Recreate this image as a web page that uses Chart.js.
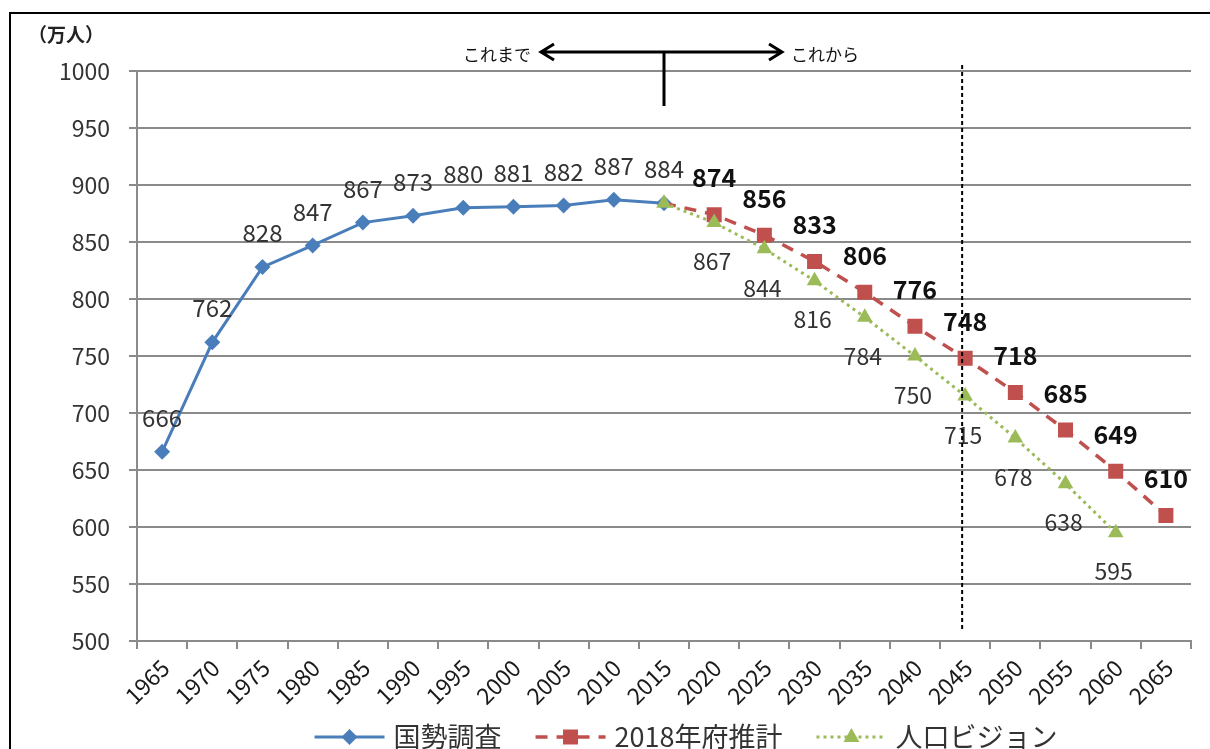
<!DOCTYPE html>
<html>
<head>
<meta charset="utf-8">
<script src="https://cdn.jsdelivr.net/npm/chart.js@4.4.0/dist/chart.umd.min.js"></script>
<style>
  html, body { margin: 0; padding: 0; background: #fff; }
  #wrap { width: 1210px; height: 749px; }
</style>
</head>
<body>
<div id="wrap"><canvas id="popChart" width="1210" height="749"></canvas></div>
<script>
const years = ['1965', '1970', '1975', '1980', '1985', '1990', '1995', '2000', '2005', '2010',
               '2015', '2020', '2025', '2030', '2035', '2040', '2045', '2050', '2055', '2060', '2065'];
const censusValues   = [666, 762, 828, 847, 867, 873, 880, 881, 882, 887, 884,
                        null, null, null, null, null, null, null, null, null, null];
const forecastValues = [null, null, null, null, null, null, null, null, null, null,
                        884, 874, 856, 833, 806, 776, 748, 718, 685, 649, 610];
const visionValues   = [null, null, null, null, null, null, null, null, null, null,
                        884, 867, 844, 816, 784, 750, 715, 678, 638, 595, null];
const seriesNames = ['国勢調査', '2018年府推計', '人口ビジョン'];
const yMin = 500, yMax = 1000, yStep = 50;

const FONT = "'Noto Sans CJK JP', 'Noto Sans', sans-serif";
const BLUE = '#4a7ebb', RED = '#c0504d', GREEN = '#9bbb59';
const GRID = '#8a8a8a';

// value labels next to each point
const pointLabels = {
    id: 'pointLabels',
    afterDatasetsDraw(chart) {
        const ctx = chart.ctx;
        chart.data.datasets.forEach((ds, di) => {
            const meta = chart.getDatasetMeta(di);
            const st = ds.labelStyle;
            meta.data.forEach((pt, i) => {
                const v = ds.data[i];
                if (v == null) return;
                if (di > 0 && years[i] === '2015') return;
                ctx.save();
                ctx.font = st.font;
                ctx.fillStyle = st.color;
                ctx.textAlign = 'center';
                ctx.textBaseline = 'middle';
                ctx.fillText(String(v), pt.x + st.dx, pt.y + st.dy);
                ctx.restore();
            });
        });
    }
};

function drawMarker(ctx, type, x, y, color) {
    ctx.save();
    ctx.fillStyle = color;
    ctx.beginPath();
    if (type === 'diamond') {
        ctx.moveTo(x, y - 8); ctx.lineTo(x + 8, y); ctx.lineTo(x, y + 8); ctx.lineTo(x - 8, y);
    } else if (type === 'square') {
        ctx.rect(x - 7.5, y - 7.5, 15, 15);
    } else {
        ctx.moveTo(x, y - 9); ctx.lineTo(x + 8, y + 5); ctx.lineTo(x - 8, y + 5);
    }
    ctx.closePath();
    ctx.fill();
    ctx.restore();
}

// frame, unit, arrows, 2045 marker line and legend
const decorations = {
    id: 'decorations',
    afterDraw(chart) {
        const ctx = chart.ctx;
        const xs = chart.scales.x;
        const area = chart.chartArea;

        ctx.save();
        ctx.strokeStyle = '#000';
        ctx.lineWidth = 2;
        ctx.strokeRect(10, 13, 1220, 760);

        ctx.fillStyle = '#222';
        ctx.font = 'bold 19px ' + FONT;
        ctx.textAlign = 'left';
        ctx.textBaseline = 'middle';
        ctx.fillText('（万人）', 28, 35);

        // これまで / これから arrows
        const cx = xs.getPixelForValue(years.indexOf('2015'));
        const ay = 52;
        ctx.lineWidth = 3;
        ctx.beginPath();
        ctx.moveTo(cx - 123, ay); ctx.lineTo(cx + 118, ay);
        ctx.moveTo(cx - 110, ay - 8); ctx.lineTo(cx - 123, ay); ctx.lineTo(cx - 110, ay + 8);
        ctx.moveTo(cx + 105, ay - 8); ctx.lineTo(cx + 118, ay); ctx.lineTo(cx + 105, ay + 8);
        ctx.moveTo(cx, ay); ctx.lineTo(cx, 106);
        ctx.stroke();
        ctx.font = '17px ' + FONT;
        ctx.fillStyle = '#111';
        ctx.textAlign = 'right';
        ctx.fillText('これまで', cx - 133, ay + 3);
        ctx.textAlign = 'left';
        ctx.fillText('これから', cx + 127, ay + 3);

        // dashed line at 2045
        const dx = xs.getPixelForValue(years.indexOf('2045')) - 3;
        ctx.lineWidth = 2;
        ctx.setLineDash([4, 3]);
        ctx.beginPath();
        ctx.moveTo(dx, 65); ctx.lineTo(dx, area.bottom - 11);
        ctx.stroke();
        ctx.setLineDash([]);

        // legend
        const items = [
            { color: BLUE, dash: [], marker: 'diamond', width: 3 },
            { color: RED, dash: [12, 9], marker: 'square', width: 3.5 },
            { color: GREEN, dash: [3, 4], marker: 'triangle', width: 3 }
        ];
        ctx.font = '27px ' + FONT;
        const symW = 70, symGap = 9, itemGap = 34;
        let total = 0;
        items.forEach((it, i) => {
            it.tw = ctx.measureText(seriesNames[i]).width;
            total += symW + symGap + it.tw + (i ? itemGap : 0);
        });
        let lx = 686 - total / 2;
        const ly = 737;
        items.forEach((it, i) => {
            ctx.strokeStyle = it.color;
            ctx.lineWidth = it.width;
            ctx.setLineDash(it.dash);
            ctx.beginPath();
            ctx.moveTo(lx, ly); ctx.lineTo(lx + symW, ly);
            ctx.stroke();
            ctx.setLineDash([]);
            drawMarker(ctx, it.marker, lx + symW / 2, ly, it.color);
            ctx.fillStyle = '#333';
            ctx.textAlign = 'left';
            ctx.textBaseline = 'middle';
            ctx.fillText(seriesNames[i], lx + symW + symGap, ly);
            lx += symW + symGap + it.tw + itemGap;
        });
        ctx.restore();
    }
};

const ctx = document.getElementById('popChart').getContext('2d');
new Chart(ctx, {
    type: 'line',
    data: {
        labels: years,
        datasets: [{
            label: seriesNames[0],
            data: censusValues,
            borderColor: BLUE,
            backgroundColor: BLUE,
            borderWidth: 3,
            pointStyle: 'rectRot',
            pointRadius: 8,
            pointBorderWidth: 0,
            order: 3,
            labelStyle: { font: '24px ' + FONT, color: '#333', dx: 0, dy: -34 }
        }, {
            label: seriesNames[1],
            data: forecastValues,
            borderColor: RED,
            backgroundColor: RED,
            borderWidth: 3.5,
            borderDash: [12, 9],
            pointStyle: 'rect',
            pointRadius: forecastValues.map((v, i) => years[i] === '2015' ? 0 : 10.6),
            pointBorderWidth: 0,
            order: 2,
            labelStyle: { font: 'bold 25px ' + FONT, color: '#111', dx: 0, dy: -37 }
        }, {
            label: seriesNames[2],
            data: visionValues,
            borderColor: GREEN,
            backgroundColor: GREEN,
            borderWidth: 3,
            borderDash: [3, 4],
            pointStyle: 'triangle',
            pointRadius: 9,
            pointBorderWidth: 0,
            order: 1,
            labelStyle: { font: '23px ' + FONT, color: '#333', dx: -2, dy: 39 }
        }]
    },
    options: {
        responsive: false,
        animation: false,
        devicePixelRatio: 1,
        layout: { padding: { left: 0, top: 71, right: 19, bottom: 0 } },
        plugins: {
            legend: { display: false },
            tooltip: { enabled: false }
        },
        elements: { line: { tension: 0 } },
        scales: {
            x: {
                offset: true,
                grid: { display: true, drawOnChartArea: false, drawTicks: true, tickLength: 8, color: GRID, lineWidth: 2, offset: true },
                border: { color: GRID, width: 2 },
                ticks: {
                    autoSkip: false, minRotation: 45, maxRotation: 45, padding: 5, labelOffset: 3,
                    color: '#1a1a1a', font: { family: FONT, size: 23 }
                },
                afterFit(scale) { scale.height = 108; }
            },
            y: {
                min: yMin, max: yMax,
                grid: { color: GRID, lineWidth: 2, tickLength: 8 },
                border: { color: GRID, width: 2 },
                ticks: {
                    stepSize: yStep, padding: 19,
                    color: '#333', font: { family: FONT, size: 23 },
                    callback: value => String(value)
                },
                afterFit(scale) { scale.width = 137; }
            }
        }
    },
    plugins: [pointLabels, decorations]
});
</script>
</body>
</html>
